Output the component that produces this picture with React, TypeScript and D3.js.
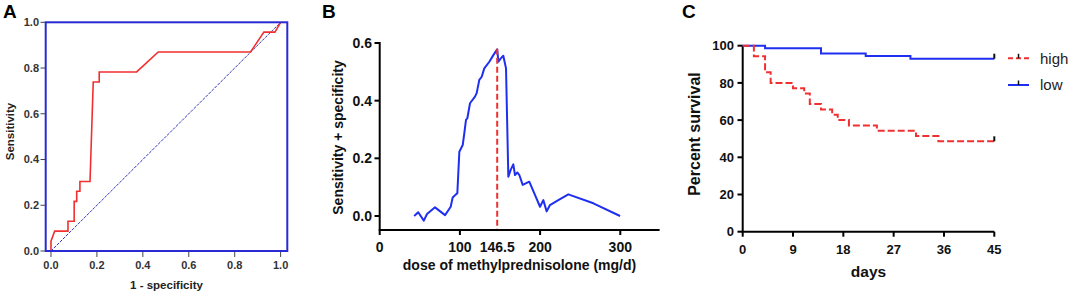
import React from 'react';
import * as d3 from 'd3';

// Panel A: ROC curve
const rocFpr = [0, 0, 0.016, 0.074, 0.074, 0.101, 0.101, 0.112, 0.112, 0.126, 0.126, 0.17, 0.184, 0.21, 0.21, 0.373, 0.467, 0.869, 0.927, 0.975, 1.0];
const rocTpr = [0, 0.043, 0.087, 0.087, 0.13, 0.13, 0.217, 0.217, 0.261, 0.261, 0.304, 0.304, 0.739, 0.739, 0.783, 0.783, 0.87, 0.87, 0.957, 0.957, 1.0];
const aTicks = [0, 0.2, 0.4, 0.6, 0.8, 1.0];

// Panel B: sensitivity + specificity vs dose
const doseX = [43, 48, 55, 59, 69, 81.5, 85.6, 88.5, 91, 95.1, 96.8, 99.3, 103.5, 105.5, 107.6, 109.3, 112.6, 118.8, 120.9, 124.2, 127.2, 130.4, 136.7, 141.7, 146.5, 148, 150.5, 154.1, 157.5, 160.4, 163.3, 166.6, 168.7, 171.6, 174.1, 178.3, 186.5, 193.6, 199.9, 204, 208.2, 212.3, 222.7, 235.2, 266.4, 299.7];
const sensSpec = [0, 0.013, -0.016, 0.007, 0.03, 0.003, 0.02, 0.032, 0.064, 0.075, 0.079, 0.223, 0.246, 0.287, 0.333, 0.339, 0.391, 0.414, 0.426, 0.472, 0.483, 0.512, 0.535, 0.558, 0.578, 0.535, 0.545, 0.556, 0.512, 0.136, 0.16, 0.179, 0.142, 0.151, 0.142, 0.108, 0.119, 0.073, 0.032, 0.055, 0.016, 0.038, 0.055, 0.075, 0.044, 0];
const bYTicks = [0, 0.2, 0.4, 0.6];
const bXTicks = [0, 100, 146.5, 200, 300];
const cutoff = 146.5;
const cutoffTop = 0.58;

// Panel C: Kaplan-Meier
const highDays = [0, 2, 4, 5, 9, 11, 12, 14, 16, 17, 19, 24, 31, 35];
const highSurv = [100, 94.3, 85.7, 80, 77.1, 74.3, 68.6, 65.7, 62.9, 60, 57.1, 54.3, 51.4, 48.6];
const lowDays = [0, 4, 14, 22, 30];
const lowSurv = [100, 98.6, 95.8, 94.4, 93.0];
const cYTicks = [0, 20, 40, 60, 80, 100];
const cXTicks = [0, 9, 18, 27, 36, 45];
const seriesNames = ['high', 'low'];
const endDay = 45;

const FONT = 'Liberation Sans, Arial, Helvetica, sans-serif';
const RED = '#f03030';
const BLUE = '#1f2ff0';
const BOX = '#2a2ad2';

export default function App() {
  // ---- A ----
  const xA = d3.scaleLinear().domain([-0.023, 1.029]).range([45.7, 287.3]);
  const yA = d3.scaleLinear().domain([0, 1]).range([251, 22.3]);
  const rocPts = rocFpr.map((f, i) => [f, rocTpr[i]] as [number, number]);
  const lineA = d3.line<[number, number]>().x(d => xA(d[0])).y(d => yA(d[1]));

  // ---- B ----
  const xB = d3.scaleLinear().domain([0, 349]).range([379.7, 659.6]);
  const yB = d3.scaleLinear().domain([-0.0486, 0.6]).range([230, 43]);
  const bPts = doseX.map((x, i) => [x, sensSpec[i]] as [number, number]);
  const lineB = d3.line<[number, number]>().x(d => xB(d[0])).y(d => yB(d[1]));

  // ---- C ----
  const xC = d3.scaleLinear().domain([0, 45]).range([742.7, 994.3]);
  const yC = d3.scaleLinear().domain([0, 100]).range([231.7, 45.7]);
  const kmLine = d3.line<[number, number]>().x(d => xC(d[0])).y(d => yC(d[1])).curve(d3.curveStepAfter);
  const highPts = highDays.map((t, i) => [t, highSurv[i]] as [number, number]);
  highPts.push([endDay, highSurv[highSurv.length - 1]]);
  const lowPts = lowDays.map((t, i) => [t, lowSurv[i]] as [number, number]);
  lowPts.push([endDay, lowSurv[lowSurv.length - 1]]);

  return (
    <svg width={1072} height={295} style={{ position: 'absolute', left: 0, top: 0, background: '#fff' }} fontFamily={FONT}>
      {/* Panel letters */}
      <text x={3} y={18} fontSize={19} fontWeight="bold" fill="#000">A</text>
      <text x={322} y={18} fontSize={19} fontWeight="bold" fill="#000">B</text>
      <text x={682} y={18} fontSize={19} fontWeight="bold" fill="#000">C</text>

      {/* ===== Panel A ===== */}
      <g>
        {aTicks.map(t => (
          <g key={'ay' + t}>
            <line x1={40.5} x2={45.7} y1={yA(t)} y2={yA(t)} stroke="#444" strokeWidth={1} />
            <text x={39} y={yA(t)} dy="0.36em" textAnchor="end" fontSize={11} fontWeight="bold" fill="#333">{t.toFixed(1)}</text>
          </g>
        ))}
        {aTicks.map(t => (
          <g key={'ax' + t}>
            <line x1={xA(t)} x2={xA(t)} y1={251} y2={257} stroke="#444" strokeWidth={1} />
            <text x={xA(t)} y={269} textAnchor="middle" fontSize={11} fontWeight="bold" fill="#333">{t.toFixed(1)}</text>
          </g>
        ))}
        <line x1={xA(0)} y1={yA(0)} x2={xA(1)} y2={yA(1)} stroke="#3434b8" strokeWidth={1} strokeDasharray="3,1.2" />
        <path d={lineA(rocPts) || ''} fill="none" stroke={RED} strokeWidth={1.6} />
        <rect x={45.7} y={22.3} width={287.3 - 45.7} height={251 - 22.3} fill="none" stroke={BOX} strokeWidth={2} />
        <text x={166.5} y={289} textAnchor="middle" fontSize={11.5} fontWeight="bold" fill="#222">1 - specificity</text>
        <text transform={`translate(14,${131.5}) rotate(-90)`} textAnchor="middle" fontSize={11.5} fontWeight="bold" fill="#222">Sensitivity</text>
      </g>

      {/* ===== Panel B ===== */}
      <g>
        <line x1={379.7} x2={379.7} y1={yB(0.6) - 1} y2={230} stroke="#000" strokeWidth={2} />
        <line x1={378.7} x2={659.6} y1={230} y2={230} stroke="#000" strokeWidth={2} />
        {bYTicks.map(t => (
          <g key={'by' + t}>
            <line x1={374.5} x2={379.7} y1={yB(t)} y2={yB(t)} stroke="#000" strokeWidth={2} />
            <text x={372} y={yB(t)} dy="0.36em" textAnchor="end" fontSize={14} fontWeight="bold" fill="#111">{t.toFixed(1)}</text>
          </g>
        ))}
        {bXTicks.filter(t => t !== cutoff).map(t => (
          <line key={'bxt' + t} x1={xB(t)} x2={xB(t)} y1={230} y2={235} stroke="#000" strokeWidth={2} />
        ))}
        {bXTicks.map(t => (
          <text key={'bx' + t} x={xB(t)} y={251.5} textAnchor="middle" fontSize={14} fontWeight="bold" fill="#111">{String(t)}</text>
        ))}
        <path d={lineB(bPts) || ''} fill="none" stroke={BLUE} strokeWidth={2} strokeLinejoin="round" />
        <line x1={xB(cutoff)} x2={xB(cutoff)} y1={yB(cutoffTop)} y2={229} stroke={RED} strokeWidth={2} strokeDasharray="6,3" />
        <text x={519.5} y={270} textAnchor="middle" fontSize={14} fontWeight="bold" fill="#111">dose of methylprednisolone (mg/d)</text>
        <text transform={`translate(343,${137.5}) rotate(-90)`} textAnchor="middle" fontSize={14} fontWeight="bold" fill="#111">Sensitivity + specificity</text>
      </g>

      {/* ===== Panel C ===== */}
      <g>
        <line x1={742.7} x2={742.7} y1={yC(100)} y2={yC(0)} stroke="#000" strokeWidth={2} />
        <line x1={741.7} x2={994.3} y1={yC(0)} y2={yC(0)} stroke="#000" strokeWidth={2} />
        {cYTicks.map(t => (
          <g key={'cy' + t}>
            <line x1={737.5} x2={742.7} y1={yC(t)} y2={yC(t)} stroke="#000" strokeWidth={2} />
            <text x={734} y={yC(t)} dy="0.36em" textAnchor="end" fontSize={13} fontWeight="bold" fill="#111">{t}</text>
          </g>
        ))}
        {cXTicks.map(t => (
          <g key={'cx' + t}>
            <line x1={xC(t)} x2={xC(t)} y1={yC(0)} y2={yC(0) + 5} stroke="#000" strokeWidth={2} />
            <text x={xC(t)} y={253.5} textAnchor="middle" fontSize={13} fontWeight="bold" fill="#111">{t}</text>
          </g>
        ))}
        <path d={kmLine(lowPts) || ''} fill="none" stroke={BLUE} strokeWidth={2} />
        <path d={kmLine(highPts) || ''} fill="none" stroke={RED} strokeWidth={2} strokeDasharray="7,3" />
        {/* censor ticks at end */}
        <line x1={xC(endDay)} x2={xC(endDay)} y1={yC(lowSurv[lowSurv.length - 1])} y2={yC(lowSurv[lowSurv.length - 1]) - 5} stroke={'#111'} strokeWidth={2} />
        <line x1={xC(endDay)} x2={xC(endDay)} y1={yC(highSurv[highSurv.length - 1])} y2={yC(highSurv[highSurv.length - 1]) - 5} stroke={'#111'} strokeWidth={2} />
        {/* legend */}
        {seriesNames.map((name, i) => {
          const y = i === 0 ? 58.3 : 85;
          const col = i === 0 ? RED : BLUE;
          return (
            <g key={name}>
              <line x1={1008} x2={1029} y1={y} y2={y} stroke={col} strokeWidth={2} strokeDasharray={i === 0 ? '5,3' : undefined} />
              <line x1={1018.5} x2={1018.5} y1={y} y2={y - 4.5} stroke={'#111'} strokeWidth={1.5} />
              <text x={1040} y={y + 5.3} fontSize={15} fill="#222">{name}</text>
            </g>
          );
        })}
        <text x={868.5} y={277} textAnchor="middle" fontSize={15.5} fontWeight="bold" fill="#111">days</text>
        <text transform={`translate(700,${134}) rotate(-90)`} textAnchor="middle" fontSize={16} fontWeight="bold" fill="#111">Percent survival</text>
      </g>
    </svg>
  );
}
